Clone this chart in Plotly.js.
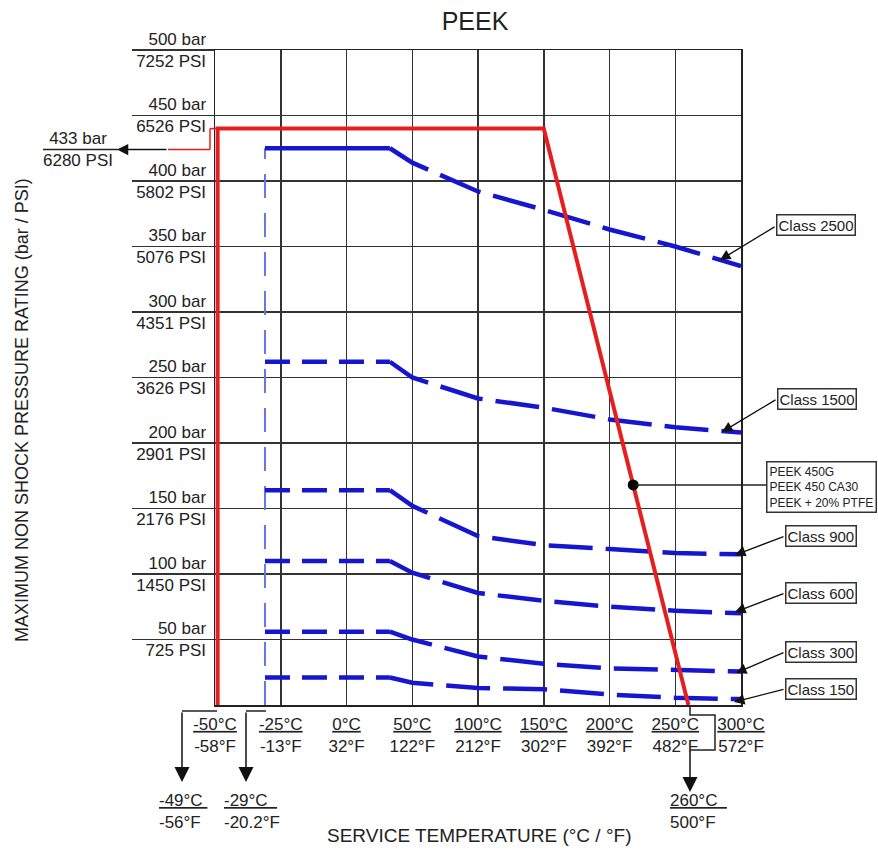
<!DOCTYPE html>
<html><head><meta charset="utf-8">
<script src="https://cdn.plot.ly/plotly-3.0.1.min.js"></script>
<style>html,body{margin:0;padding:0;background:#fff}#chart{width:878px;height:852px}</style>
</head><body><div id="chart"></div>
<script>
// ---- data ----
const tempTicksC = [-50, -25, 0, 50, 100, 150, 200, 250, 300];
const tempTicksF = [-58, -13, 32, 122, 212, 302, 392, 482, 572];
const barTicks = [50, 100, 150, 200, 250, 300, 350, 400, 450, 500];
const psiTicks = [725, 1450, 2176, 2901, 3626, 4351, 5076, 5802, 6526, 7252];

const classNames = ['2500', '1500', '900', '600', '300', '150'];
const classTemps = [-31, 33, 50, 100, 150, 200, 250, 300];
const class2500 = [425, 425, 414, 392, 378, 363, 350, 335];
const class1500 = [262, 262, 250, 234, 227, 218, 212, 208];
const class900  = [164, 164, 152, 129, 122, 119, 116, 115];
const class600  = [110, 110, 101, 85.5, 79.5, 75, 72, 70];
const class300  = [56, 56, 50, 37, 31.5, 28, 26.5, 25.5];
const class150  = [21, 21, 17, 13, 12, 8, 5.5, 4.5];
const classValues = [class2500, class1500, class900, class600, class300, class150];

const minBlueTemp = [-31, -31];
const minBlueBar = [0, 425];

const peekTemps = [-49, -49, 150, 260];
const peekBar = [0, 440, 440, 0];
const peekDotTemp = [218];
const peekDotBar = [168];
const maxPeekBar = 424;

// non-uniform temperature axis: each tick interval is one unit
function tpos(t) {
  const n = tempTicksC.length;
  for (let i = 0; i < n - 1; i++) {
    const a = tempTicksC[i], b = tempTicksC[i + 1];
    if (t <= b || i === n - 2) return i + (t - a) / (b - a);
  }
}

// layout geometry (pixels) for decorations outside the plot
const L = 215, R = 741, T = 50, B = 705;
const PX = p => (p - L) / (R - L);
const PY = p => (B - p) / (B - T);

const FONT = 'Liberation Sans, Arial, sans-serif';
const BLUE = '#1616d0';
const RED = '#e61e1e';
const INK = '#222';

// ---- traces ----
const traces = [];
traces.push({
  x: minBlueTemp.map(tpos), y: minBlueBar, mode: 'lines',
  line: {color: '#6677e0', width: 2, dash: '24px,15px'}, hoverinfo: 'skip'
});
classValues.forEach((vals, k) => {
  traces.push({
    x: classTemps.slice(0, 2).map(tpos), y: vals.slice(0, 2), mode: 'lines',
    line: {color: BLUE, width: 4.5, dash: k === 0 ? 'solid' : '25px,12px'},
    name: 'Class ' + classNames[k]
  });
  traces.push({
    x: classTemps.slice(1).map(tpos), y: vals.slice(1), mode: 'lines',
    line: {color: BLUE, width: 4.5, dash: '44px,13px'},
    name: 'Class ' + classNames[k]
  });
});
traces.push({
  x: peekTemps.map(tpos), y: peekBar, mode: 'lines',
  line: {color: RED, width: 4}, name: 'PEEK'
});
traces.push({
  x: peekDotTemp.map(tpos), y: peekDotBar, mode: 'markers',
  marker: {color: '#000', size: 11}, name: 'PEEK'
});

// ---- annotations ----
const ann = [];
const txt = (o) => Object.assign({xref: 'paper', yref: 'paper', showarrow: false,
  xanchor: 'center', yanchor: 'middle'}, o);
ann.push(txt({x: PX(22), y: PY(410), textangle: -90,
  text: 'MAXIMUM NON SHOCK PRESSURE RATING (bar / PSI)', font: {size: 18, color: INK, family: FONT}}));
ann.push(txt({x: PX(479), y: PY(835),
  text: 'SERVICE TEMPERATURE (°C / °F)', font: {size: 19, color: INK, family: FONT}}));
ann.push(txt({yref: 'y', x: PX(78), y: maxPeekBar,
  text: '433 bar<br>6280 PSI', font: {size: 17, color: INK, family: FONT}}));
ann.push({xref: 'paper', yref: 'y', x: PX(117), y: maxPeekBar, ax: 51, ay: 0, text: '',
  showarrow: true, arrowhead: 2, arrowsize: 1.5, arrowwidth: 1.5, arrowcolor: '#111', standoff: 0});

const classBoxes = [[816, 225], [817, 399], [821, 536], [821, 593], [821, 652], [821, 689]];
const classHeads = [[720, 260], [722, 432], [735, 555], [735, 612], [736, 673], [734, 702]];
const classTails = [[776, 226], [777, 399], [785, 536], [785, 593], [785, 652], [785, 689]];
classNames.forEach((nm, k) => {
  ann.push(txt({x: PX(classBoxes[k][0]), y: PY(classBoxes[k][1]),
    text: 'Class ' + nm, bgcolor: '#fff', bordercolor: '#333', borderwidth: 1.5,
    borderpad: 1, font: {size: 15, color: INK, family: FONT}}));
  ann.push({xref: 'paper', yref: 'paper', x: PX(classHeads[k][0]), y: PY(classHeads[k][1]),
    ax: classTails[k][0] - classHeads[k][0], ay: classTails[k][1] - classHeads[k][1], text: '',
    showarrow: true, arrowhead: 2, arrowsize: 1.5, arrowwidth: 1.4, arrowcolor: '#111', standoff: 0});
});
ann.push(txt({x: PX(766), y: PY(487), xanchor: 'left',
  align: 'left', text: 'PEEK 450G<br>PEEK 450 CA30<br>PEEK + 20% PTFE', bgcolor: '#fff',
  bordercolor: '#333', borderwidth: 1.5, borderpad: 2, font: {size: 12, color: INK, family: FONT}}));

// bottom callouts
const bottomArrows = [[182, 782, 711], [246, 782, 711], [690, 792, 750]];
bottomArrows.forEach(a => {
  ann.push({xref: 'paper', yref: 'paper', x: PX(a[0]), y: PY(a[1]), ax: 0, ay: a[2] - a[1], text: '',
    showarrow: true, arrowhead: 2, arrowsize: 2, arrowwidth: 1.5, arrowcolor: '#111', standoff: 0});
});
const bottomLabels = [[157, '<u>-49°C </u><br>-56°F'], [222, '<u>-29°C  </u><br>-20.2°F'], [668, '<u>260°C  </u><br>500°F']];
bottomLabels.forEach(b => {
  ann.push(txt({x: PX(b[0]), y: PY(811), xanchor: 'left', align: 'left',
    text: b[1], font: {size: 17, color: INK, family: FONT}}));
});

// ---- shapes ----
const ln = {color: '#222', width: 1.5};
const shapes = [
  {type: 'line', xref: 'paper', yref: 'y', x0: PX(168), x1: PX(210), y0: maxPeekBar, y1: maxPeekBar, line: {color: RED, width: 1.5}},
  {type: 'line', xref: 'paper', yref: 'y', x0: PX(210), x1: PX(210), y0: maxPeekBar, y1: peekBar[1], line: {color: RED, width: 1.5}},
  {type: 'line', xref: 'paper', yref: 'y', x0: PX(210), x1: PX(217), y0: peekBar[1], y1: peekBar[1], line: {color: RED, width: 1.5}},
  {type: 'line', xref: 'paper', yref: 'y', x0: PX(43), x1: PX(118), y0: maxPeekBar, y1: maxPeekBar, line: ln},
  {type: 'line', xref: 'paper', yref: 'paper', x0: PX(182), x1: PX(217), y0: PY(711), y1: PY(711), line: ln},
  {type: 'line', xref: 'paper', yref: 'paper', x0: PX(246), x1: PX(266), y0: PY(711), y1: PY(711), line: ln},
  {type: 'path', xref: 'paper', yref: 'paper', line: ln,
    path: `M ${PX(690)},${PY(705)} V ${PY(715)} H ${PX(715)} V ${PY(750)} H ${PX(690)}`},
  {type: 'line', xref: 'paper', yref: 'y', x0: PX(635), x1: PX(766), y0: peekDotBar[0], y1: peekDotBar[0], line: ln}
];

const layout = {
  width: 878, height: 852,
  margin: {l: L, r: 878 - R, t: T, b: 852 - B, pad: 0},
  paper_bgcolor: '#fff', plot_bgcolor: '#fff',
  showlegend: false,
  font: {family: FONT, color: INK},
  title: {text: 'PEEK', x: 475 / 878, xanchor: 'center', yref: 'container', y: 1 - 21 / 852, yanchor: 'middle',
    font: {size: 25, color: INK, family: FONT}},
  xaxis: {
    range: [0, tempTicksC.length - 1], tickmode: 'array',
    tickvals: tempTicksC.map(tpos),
    ticktext: tempTicksC.map((c, i) => '<u>' + c + '°C</u><br>' + tempTicksF[i] + '°F'),
    showgrid: true, gridcolor: '#333', gridwidth: 1.5, zeroline: false,
    showline: true, mirror: true, linecolor: '#222', linewidth: 1.5, ticks: '',
    ticklabelstandoff: 3,
    tickfont: {size: 17, color: INK, family: FONT}, fixedrange: true
  },
  yaxis: {
    range: [0, 500], tickmode: 'array', tickvals: barTicks,
    ticktext: barTicks.map((b, i) => b + ' bar<br>' + psiTicks[i] + ' PSI'),
    showgrid: true, gridcolor: '#333', gridwidth: 1.5, zeroline: false,
    showline: true, mirror: true, linecolor: '#222', linewidth: 1.5,
    ticks: 'outside', ticklen: 82, tickwidth: 1.5, tickcolor: '#333', ticklabelstandoff: -78,
    tickfont: {size: 17, color: INK, family: FONT}, fixedrange: true
  },
  annotations: ann,
  shapes: shapes
};

Plotly.newPlot('chart', traces, layout, {displayModeBar: false, staticPlot: true});
</script>
</body></html>
